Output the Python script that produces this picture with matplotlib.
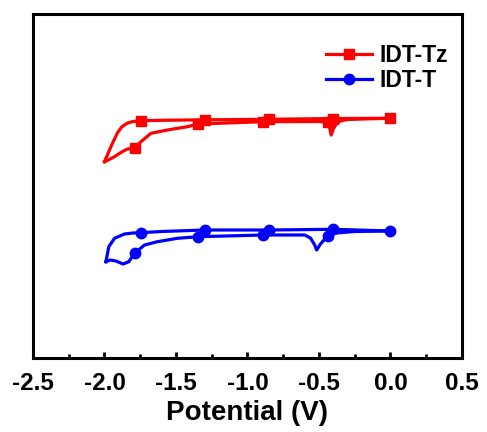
import matplotlib
matplotlib.use("Agg")
import matplotlib.pyplot as plt
import numpy as np

# IDT-Tz (red) cyclic voltammogram, arbitrary current units
tz_fwd_v = [0.0, -0.40, -0.85, -1.30, -1.60, -1.745, -1.80, -1.84, -1.88, -1.91, -1.95, -1.98, -2.0]
tz_fwd_i = [23.97, 23.95, 23.87, 23.82, 23.77, 23.73, 23.65, 23.5, 23.1, 22.5, 21.3, 20.3, 19.63]
tz_rev_v = [-2.0, -1.96, -1.93, -1.88, -1.84, -1.79, -1.745, -1.675, -1.56, -1.42, -1.344,
            -0.89, -0.50, -0.44, -0.425, -0.415, -0.40, -0.38, -0.35, -0.30, -0.15, 0.0]
tz_rev_i = [19.63, 19.9, 20.13, 20.6, 20.9, 20.97, 21.63, 22.47, 22.8, 23.13, 23.4,
            23.63, 23.65, 23.6, 23.0, 22.3, 22.9, 23.4, 23.7, 23.85, 23.92, 23.97]

# IDT-T (blue)
t_fwd_v = [0.0, -0.40, -0.85, -1.30, -1.60, -1.745, -1.80, -1.86, -1.93, -1.97, -1.99]
t_fwd_i = [12.7, 12.87, 12.8, 12.8, 12.65, 12.53, 12.5, 12.4, 11.97, 11.13, 9.63]
t_rev_v = [-1.99, -1.96, -1.92, -1.87, -1.83, -1.79, -1.72, -1.63, -1.49, -1.344,
           -0.89, -0.60, -0.56, -0.53, -0.516, -0.49, -0.44, -0.38, -0.25, 0.0]
t_rev_i = [9.63, 9.8, 9.7, 9.4, 9.63, 10.47, 11.3, 11.63, 11.97, 12.13,
           12.3, 12.3, 12.0, 11.3, 10.8, 11.4, 12.2, 12.5, 12.65, 12.7]

fwd_marks = [0, 1, 2, 3, 5]
tz_rev_marks = [5, 10, 11, 13]
t_rev_marks = [5, 9, 10, 16]

xticks = [-2.5, -2.0, -1.5, -1.0, -0.5, 0.0, 0.5]

plt.rcParams['font.family'] = ['Liberation Sans', 'DejaVu Sans']
plt.rcParams['font.weight'] = 'bold'

fig = plt.figure(figsize=(4.87, 4.32), dpi=100)
ax = fig.add_axes([33/487, 1-358/432, (462-33)/487, (358-14)/432])

red = '#ff0000'
blue = '#0000ff'
lw = 2.3
ms = 7.5

l1, = ax.plot(tz_fwd_v, tz_fwd_i, color=red, lw=lw, marker='s', ms=ms, markevery=fwd_marks, label='IDT-Tz')
ax.plot(tz_rev_v, tz_rev_i, color=red, lw=lw, marker='s', ms=ms, markevery=tz_rev_marks)
l2, = ax.plot(t_fwd_v, t_fwd_i, color=blue, lw=lw, marker='o', ms=ms, markevery=fwd_marks, label='IDT-T')
ax.plot(t_rev_v, t_rev_i, color=blue, lw=lw, marker='o', ms=ms, markevery=t_rev_marks)

ax.set_xlim(-2.5, 0.5)
ax.set_ylim(0, 34.4)
ax.set_xticks(xticks)
ax.set_xticklabels([f"{t:.1f}" for t in xticks])
ax.set_xticks(np.arange(-2.25, 0.5, 0.5), minor=True)
ax.set_yticks([])
ax.tick_params(axis='x', which='major', direction='in', length=4, width=2, labelsize=17.5, pad=10)
ax.tick_params(axis='x', which='minor', direction='in', length=3, width=2)
for lab in ax.get_xticklabels():
    lab.set_fontweight('bold')
for s in ax.spines.values():
    s.set_linewidth(2.2)

ax.set_xlabel('Potential (V)', fontsize=20, fontweight='bold', labelpad=4)

leg = ax.legend(handles=[l1, l2], loc='upper left', bbox_to_anchor=(315/487, 1-33/432),
                bbox_transform=fig.transFigure, frameon=False,
                handlelength=2.0, handletextpad=0.3, labelspacing=0.08, borderpad=0,
                prop={'weight': 'bold', 'size': 16.5})

fig.savefig('out.png', dpi=100)
